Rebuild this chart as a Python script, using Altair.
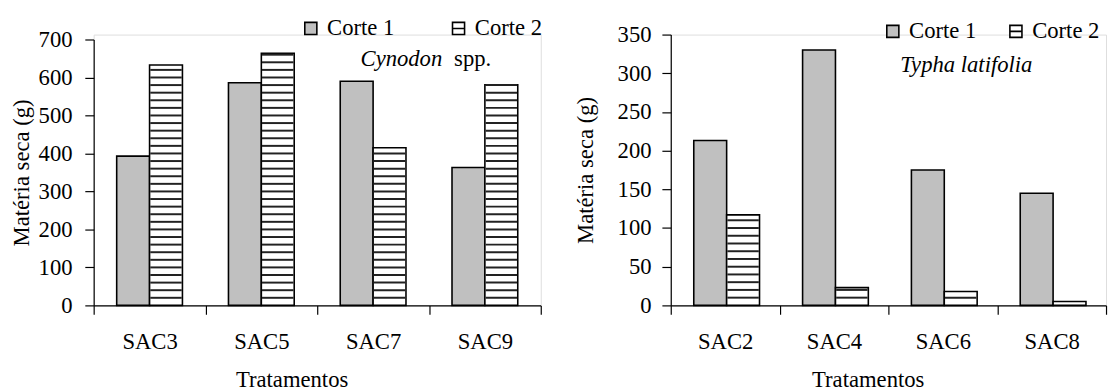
import altair as alt
import pandas as pd

# ---- data ----
series = ["Corte 1", "Corte 2"]

cyn_trat = ["SAC3", "SAC5", "SAC7", "SAC9"]
cyn_corte1 = [393, 586, 590, 363]
cyn_corte2 = [633, 664, 415, 581]
cyn_ticks = [0, 100, 200, 300, 400, 500, 600, 700]

typ_trat = ["SAC2", "SAC4", "SAC6", "SAC8"]
typ_corte1 = [213, 330, 175, 145]
typ_corte2 = [117, 23, 18, 5]
typ_ticks = [0, 50, 100, 150, 200, 250, 300, 350]

FONT = "Times New Roman, Liberation Serif, DejaVu Serif, serif"
FS = 23
C2_SHAPE = "M-1,-1H1V1H-1Z M-1,0H1"
H = 275


def panel(trat, c1, c2, ticks, step, width, top_gap, leg_x, leg_y, col_pad,
          y_lp, y_tp, x_title_x, label_parts):
    df = pd.DataFrame({
        "trat": trat * 2,
        "serie": [series[0]] * len(trat) + [series[1]] * len(trat),
        "valor": c1 + c2,
    })
    ymax = ticks[-1]
    x = alt.X("trat:N", sort=trat, title="Tratamentos",
              scale=alt.Scale(paddingInner=0, paddingOuter=0),
              axis=alt.Axis(tickBand="extent", labelAngle=0, labelFont=FONT,
                            labelFontSize=FS, titleFont=FONT, titleFontSize=FS,
                            titleFontWeight="normal", labelColor="black",
                            titleColor="black", domainColor="black",
                            tickColor="black", tickSize=9, labelPadding=17,
                            titlePadding=15, titleX=x_title_x, titleAlign="center",
                            domainWidth=1.2, tickWidth=1.2))
    yscale = alt.Scale(domain=[0, ymax], nice=False, range=[H, top_gap])
    yaxis = alt.Axis(values=ticks, grid=False, labelFont=FONT, labelFontSize=FS,
                     titleFont=FONT, titleFontSize=FS, titleFontWeight="normal",
                     labelColor="black", titleColor="black", domainColor="black",
                     tickColor="black", tickSize=9, labelPadding=y_lp,
                     titlePadding=y_tp, domainWidth=1.2, tickWidth=1.2)
    ytitle = "Matéria seca  (g)"
    xo = alt.XOffset("serie:N", sort=series,
                     scale=alt.Scale(paddingOuter=0.7, paddingInner=0))

    legend = alt.Legend(
        title=None, orient="none", direction="horizontal",
        legendX=leg_x, legendY=leg_y, padding=0, columnPadding=col_pad,
        symbolSize=150, symbolStrokeColor="black",
        symbolStrokeWidth=1.6, labelFont=FONT, labelFontSize=FS,
        labelColor="black", labelOffset=5,
    )
    fill_enc = alt.Fill("serie:N", sort=series,
                        scale=alt.Scale(domain=series, range=["#c0c0c0", "white"]),
                        legend=legend)
    shape_enc = alt.Shape("serie:N", sort=series,
                          scale=alt.Scale(domain=series, range=["square", C2_SHAPE]),
                          legend=legend)

    bars = alt.Chart(df).mark_bar(stroke="black", strokeWidth=1.6).encode(
        x=x,
        xOffset=xo,
        y=alt.Y("valor:Q", scale=yscale, axis=yaxis, title=ytitle),
        fill=fill_enc,
    )

    stripes = alt.Chart(df).transform_filter(
        alt.datum.serie == series[1]
    ).transform_calculate(
        s="sequence(%s, datum.valor, %s)" % (step, step)
    ).transform_flatten(["s"]).mark_tick(
        color="#222222", thickness=2, size=32, opacity=1
    ).encode(
        x=x,
        xOffset=xo,
        y=alt.Y("s:Q", scale=yscale, axis=yaxis, title=ytitle),
    )

    # legend carrier: no visible points, only the fill/shape legend
    legend_layer = alt.Chart(df).transform_filter("false").mark_point(
        filled=True, stroke="black", strokeWidth=1.6, opacity=1
    ).encode(
        x=x,
        y=alt.Y("valor:Q", scale=yscale, axis=yaxis, title=ytitle),
        fill=fill_enc,
        shape=shape_enc,
    )

    layers = [bars, stripes, legend_layer]

    for txt, style, dx, dy in label_parts:
        layers.append(
            alt.Chart(pd.DataFrame({"t": [txt]})).mark_text(
                font=FONT, fontSize=FS, fontStyle=style, align="left",
                baseline="alphabetic", color="black"
            ).encode(text="t:N", x=alt.value(dx), y=alt.value(dy))
        )

    # invisible anchor fixing the top of the panel's bounds
    layers.append(
        alt.Chart(pd.DataFrame({"a": [0]})).mark_rule(
            strokeOpacity=0, strokeWidth=0.1
        ).encode(x=alt.value(0), x2=alt.value(2), y=alt.value(-23))
    )

    return alt.layer(*layers).properties(width=width, height=H)


left = panel(cyn_trat, cyn_corte1, cyn_corte2, cyn_ticks, 20, 454, 5,
             209, -18, 53, 13, 5, 201,
             [("Cynodon", "italic", 271, 32), ("spp.", "normal", 366, 32)])
right = panel(typ_trat, typ_corte1, typ_corte2, typ_ticks, 10, 442, 0,
              214, -15, 28, 11, 20, 200,
              [("Typha latifolia", "italic", 233, 38)])

chart = alt.hconcat(left, right, spacing=31).resolve_scale(
    x="independent", y="independent", fill="independent", shape="independent"
).properties(
    padding={"left": 2, "top": 0, "right": 0, "bottom": 0}
).configure_view(stroke=None).configure(background="white")

chart.save("out.html", embed_options={"renderer": "svg", "actions": False})
